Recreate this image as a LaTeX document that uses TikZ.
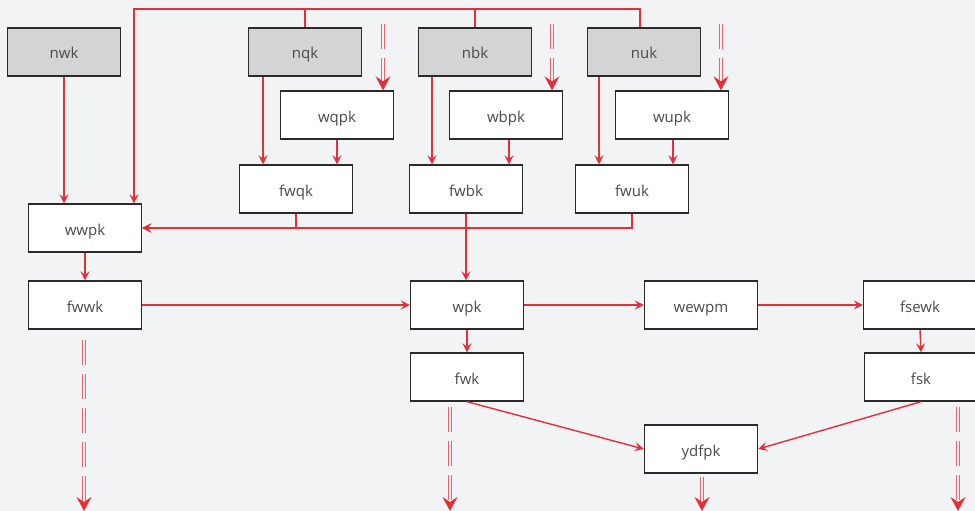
\documentclass[tikz,border=0pt]{standalone}
\usepackage{fontspec}
\setmainfont{Open Sans}
\usetikzlibrary{arrows.meta,calc}
\definecolor{bg}{HTML}{F2F3F5}
\definecolor{boxgray}{HTML}{D3D4D6}
\definecolor{boxline}{HTML}{2B2B2B}
\definecolor{redl}{HTML}{E0313B}
\definecolor{txt}{HTML}{4A4A4A}
\tikzset{
  box/.style={draw=boxline, line width=1.4pt, fill=white, minimum width=113pt, minimum height=48pt, inner sep=0pt, text height=14pt, text depth=0pt, text=txt, font=\fontsize{15pt}{17pt}\selectfont},
  gbox/.style={box, fill=boxgray},
  arr/.style={draw=redl, line width=1.4pt, -{Stealth[length=9pt,width=9pt,inset=3.5pt]}},
  ln/.style={draw=redl, line width=1.4pt},
  dbl/.style={draw=redl!75, line width=0.9pt, double=bg, double distance=1.6pt, dash pattern=on 25pt off 9pt, -{Stealth[length=14pt,width=15pt,inset=5pt,color=redl,fill=redl]}}
}
\begin{document}
\begin{tikzpicture}[x=1pt,y=-1pt]
\path[use as bounding box, fill=bg] (0,0) rectangle (975,511);
% nodes
\node[gbox] (nwk) at (64,52) {nwk};
\node[gbox] (nqk) at (305,52) {nqk};
\node[gbox] (nbk) at (475,52) {nbk};
\node[gbox] (nuk) at (644,52) {nuk};
\node[box] (wqpk) at (337,115) {wqpk};
\node[box] (wbpk) at (506,115) {wbpk};
\node[box] (wupk) at (672,115) {wupk};
\node[box] (fwqk) at (296,189) {fwqk};
\node[box] (fwbk) at (466,189) {fwbk};
\node[box] (fwuk) at (632,189) {fwuk};
\node[box] (wwpk) at (85,228) {wwpk};
\node[box] (fwwk) at (85,305) {fwwk};
\node[box] (wpk) at (467,305) {wpk};
\node[box] (wewpm) at (701,305) {wewpm};
\node[box] (fsewk) at (920,305) {fsewk};
\node[box] (fwk) at (467,377) {fwk};
\node[box] (fsk) at (921,377) {fsk};
\node[box] (ydfpk) at (701,449) {ydfpk};
% coordinates
\coordinate (top) at (134,9);
\coordinate (dq) at (383,24);
\coordinate (db) at (552,24);
\coordinate (du) at (721,24);
\coordinate (d1) at (84,340);
\coordinate (d1e) at (84,511);
\coordinate (d2) at (450,407);
\coordinate (d2e) at (450,511);
\coordinate (d3) at (702,477);
\coordinate (d3e) at (702,511);
\coordinate (d4) at (958,407);
\coordinate (d4e) at (958,511);
% top bus
\draw[arr] ([xshift=-4pt]nuk.north) -- ([xshift=-4pt]nuk.north |- top) -- (top) -- (top |- wwpk.north);
\draw[ln] (nqk.north) -- (nqk.north |- top);
\draw[ln] (nbk.north) -- (nbk.north |- top);
% column arrows
\draw[arr] (nwk.south) -- (nwk.south |- wwpk.north);
\draw[arr] ([xshift=-42pt]nqk.south) -- ([xshift=-42pt]nqk.south |- fwqk.north);
\draw[arr] (wqpk.south) -- (wqpk.south |- fwqk.north);
\draw[arr] ([xshift=-43pt]nbk.south) -- ([xshift=-43pt]nbk.south |- fwbk.north);
\draw[arr] ([xshift=3pt]wbpk.south) -- ([xshift=3pt]wbpk.south |- fwbk.north);
\draw[arr] ([xshift=-45pt]nuk.south) -- ([xshift=-45pt]nuk.south |- fwuk.north);
\draw[arr] ([xshift=1pt]wupk.south) -- ([xshift=1pt]wupk.south |- fwuk.north);
% merge into wwpk
\draw[arr] (fwqk.south) |- (wwpk.east);
\draw[arr] (fwuk.south) |- (wwpk.east);
\draw[arr] (fwbk.south) -- (fwbk.south |- wpk.north);
% main flow
\draw[arr] (wwpk.south) -- (fwwk.north);
\draw[arr] (fwwk.east) -- (wpk.west);
\draw[arr] (wpk.east) -- (wewpm.west);
\draw[arr] (wewpm.east) -- (fsewk.west);
\draw[arr] (fsewk.south) -- (fsk.north);
\draw[arr] (wpk.south) -- (fwk.north);
\draw[arr] (fwk.south) -- (ydfpk.west);
\draw[arr] (fsk.south) -- (ydfpk.east);
% double dashed arrows
\draw[dbl] (dq) -- (dq |- wqpk.north);
\draw[dbl] (db) -- (db |- wbpk.north);
\draw[dbl] (du) -- (du |- wupk.north);
\draw[dbl] (d1) -- (d1e);
\draw[dbl] (d2) -- (d2e);
\draw[dbl] (d3) -- (d3e);
\draw[dbl] (d4) -- (d4e);
\end{tikzpicture}
\end{document}
